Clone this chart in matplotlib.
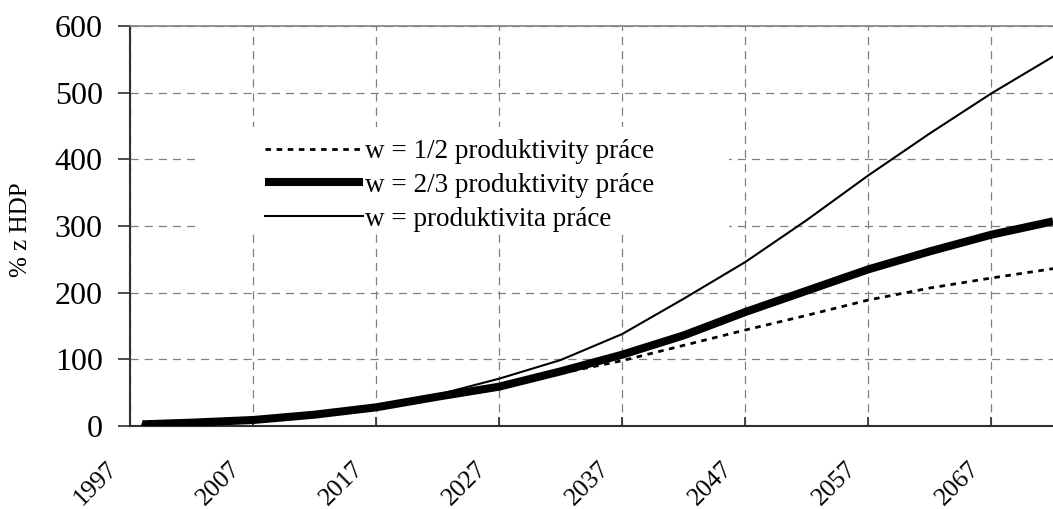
import matplotlib
matplotlib.use("Agg")
import matplotlib.pyplot as plt
import matplotlib.transforms as mtransforms
from matplotlib.patches import Rectangle

plt.rcParams["font.family"] = ["Liberation Serif", "DejaVu Serif"]

# values (% of GDP)
years = [1998, 2002, 2007, 2012, 2017, 2022, 2027, 2032, 2037, 2042,
         2047, 2052, 2057, 2062, 2067, 2072]
half_prod = [2.5, 5, 9, 17, 28, 44, 58, 79, 98, 121, 144, 166, 189, 207, 222, 236]
two_thirds_prod = [2.5, 5, 9, 17, 28, 44, 59, 82, 107, 136, 171, 203, 235, 262, 287, 307]
full_prod = [2.5, 5, 9, 17, 29, 47, 71, 99, 138, 191, 246, 309, 376, 439, 499, 554]

labels = ["w = 1/2 produktivity práce",
          "w = 2/3 produktivity práce",
          "w = produktivita práce"]
xticks = [1997, 2007, 2017, 2027, 2037, 2047, 2057, 2067]
yticks = [0, 100, 200, 300, 400, 500, 600]

fig = plt.figure(figsize=(10.53, 5.09), dpi=100)
ax = fig.add_axes([130 / 1053, 83 / 509, 923 / 1053, 400 / 509])

l1, = ax.plot(years, half_prod, color="black", lw=2.0, dashes=(2.0, 2.0), zorder=3)
l2, = ax.plot(years, two_thirds_prod, color="black", lw=5.8, solid_capstyle="butt", zorder=3)
l3, = ax.plot(years, full_prod, color="black", lw=1.5, zorder=3)

ax.set_xlim(1997, 2072)
ax.set_ylim(0, 600)
ax.set_xticks(xticks)
ax.set_yticks(yticks)
ax.set_xticklabels([str(y) for y in xticks], rotation=45, ha="right", va="top",
                   rotation_mode="anchor")

ax.set_axisbelow(True)
ax.grid(True, color="#808080", lw=0.9, linestyle=(0, (6.5, 4.8)))

ax.tick_params(axis="x", direction="in", length=6.5, width=1.2, color="#303030",
               labelsize=18.5, pad=22.5)
ax.tick_params(axis="y", direction="out", length=8.6, width=1.2, color="#303030",
               labelsize=23, pad=11)

# excel puts the rotated year labels a bit left of the tick
# (done after tick_params, which resets the label transforms)
for lab in ax.get_xticklabels():
    lab.set_transform(lab.get_transform()
                      + mtransforms.ScaledTranslation(-17 / 72, 0, fig.dpi_scale_trans))

ax.spines["right"].set_visible(False)
ax.spines["top"].set_color("#808080")
ax.spines["top"].set_linewidth(1.2)
for s in ("left", "bottom"):
    ax.spines[s].set_color("#303030")
    ax.spines[s].set_linewidth(1.5)

ax.set_ylabel("% z HDP", fontsize=18)
ax.yaxis.set_label_coords(-0.106, 0.49)

# white block behind the legend, hides the grid there
ax.add_patch(Rectangle((0.0704, 0.4825), 0.5786, 0.265, transform=ax.transAxes,
                       facecolor="white", edgecolor="none", zorder=1))

ax.legend([l1, l2, l3], labels, loc="upper left", bbox_to_anchor=(0.1463, 0.717),
          frameon=False, fontsize=19.5, borderpad=0, borderaxespad=0,
          handlelength=3.6, handletextpad=0.1, labelspacing=0.32)

fig.savefig("out.png", dpi=100, facecolor="white")
